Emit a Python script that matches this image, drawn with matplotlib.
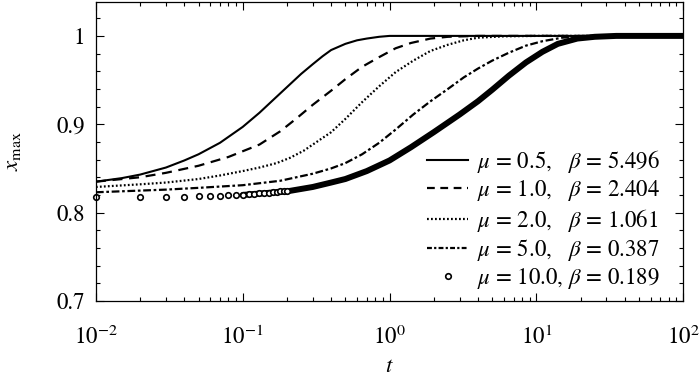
import matplotlib
matplotlib.use('Agg')
import matplotlib.pyplot as plt
from matplotlib.lines import Line2D

plt.rcParams['font.family'] = ['STIXGeneral', 'DejaVu Serif']
plt.rcParams['mathtext.fontset'] = 'stix'
plt.rcParams['font.size'] = 16.5

# values
t_mu05 = [0.01, 0.015, 0.02, 0.03, 0.04, 0.05, 0.07, 0.1, 0.13, 0.16, 0.2, 0.25,
          0.3, 0.35, 0.4, 0.5, 0.6, 0.7, 0.85, 1.0, 1.5, 2.0, 100.0]
x_mu05 = [0.835, 0.839, 0.843, 0.851, 0.859, 0.866, 0.879, 0.897, 0.913, 0.927, 0.942, 0.957,
          0.968, 0.977, 0.984, 0.991, 0.995, 0.997, 0.999, 1.0, 1.0, 1.0, 1.0]

t_mu1 = [0.01, 0.02, 0.03, 0.05, 0.08, 0.13, 0.18, 0.23, 0.3, 0.4, 0.5, 0.65,
         0.85, 1.1, 1.4, 1.9, 2.5, 4.0, 100.0]
x_mu1 = [0.835, 0.840, 0.845, 0.853, 0.863, 0.877, 0.892, 0.906, 0.922, 0.938, 0.951, 0.965,
         0.976, 0.986, 0.992, 0.997, 0.999, 1.0, 1.0]

t_mu2 = [0.01, 0.02, 0.03, 0.05, 0.07, 0.1, 0.13, 0.17, 0.21, 0.26, 0.3, 0.4,
         0.5, 0.65, 0.85, 1.1, 1.45, 1.9, 2.5, 3.2, 4.0, 6.0, 10.0, 100.0]
x_mu2 = [0.829, 0.832, 0.834, 0.838, 0.842, 0.847, 0.851, 0.856, 0.862, 0.870, 0.877, 0.891,
         0.906, 0.925, 0.943, 0.959, 0.972, 0.983, 0.990, 0.995, 0.998, 0.9995, 1.0, 1.0]

t_mu5 = [0.01, 0.03, 0.05, 0.1, 0.18, 0.3, 0.4, 0.5, 0.65, 0.85, 1.1, 1.45,
         1.9, 2.5, 3.2, 4.0, 5.0, 6.5, 8.5, 11.0, 15.0, 20.0, 30.0, 100.0]
x_mu5 = [0.823, 0.826, 0.828, 0.831, 0.836, 0.844, 0.850, 0.856, 0.866, 0.879, 0.894, 0.911,
         0.926, 0.940, 0.953, 0.963, 0.972, 0.981, 0.989, 0.994, 0.998, 0.9995, 1.0, 1.0]

# mu = 10: separate circles at small t, dense band afterwards
t_mu10_pts = [0.01, 0.02, 0.03, 0.04, 0.05, 0.06, 0.07, 0.08, 0.09, 0.10,
              0.11, 0.12, 0.13, 0.14, 0.15, 0.16, 0.17, 0.18, 0.19, 0.20]
x_mu10_pts = [0.818, 0.818, 0.818, 0.818, 0.819, 0.819, 0.819, 0.820, 0.820, 0.820,
              0.821, 0.821, 0.822, 0.822, 0.822, 0.823, 0.823, 0.824, 0.824, 0.824]
t_mu10 = [0.10, 0.2, 0.3, 0.4, 0.5, 0.7, 1.0, 1.4, 2.0, 2.5, 3.0, 4.0, 5.0,
          6.5, 8.5, 11.0, 14.0, 19.0, 25.0, 35.0, 100.0]
x_mu10 = [0.820, 0.824, 0.829, 0.834, 0.838, 0.847, 0.859, 0.874, 0.891, 0.902, 0.911, 0.926, 0.939,
          0.955, 0.970, 0.982, 0.991, 0.997, 0.999, 1.0, 1.0]

labels = [r'$\mu$ = 0.5,   $\beta$ = 5.496',
          r'$\mu$ = 1.0,   $\beta$ = 2.404',
          r'$\mu$ = 2.0,   $\beta$ = 1.061',
          r'$\mu$ = 5.0,   $\beta$ = 0.387',
          r'$\mu$ = 10.0, $\beta$ = 0.189']

fig = plt.figure(figsize=(7, 3.79), dpi=100)
ax = fig.add_axes([0.137, 0.206, 0.839, 0.789])

ax.plot(t_mu05, x_mu05, color='black', lw=1.5)
ax.plot(t_mu1, x_mu1, color='black', lw=1.6, dashes=(4.5, 3))
ax.plot(t_mu2, x_mu2, color='black', lw=1.6, dashes=(0.8, 1.0))
ax.plot(t_mu5, x_mu5, color='black', lw=1.6, dashes=(3.5, 1.2, 1.2, 1.2))
ax.plot(t_mu10, x_mu10, color='black', lw=4.3, solid_capstyle='round')
ax.plot(t_mu10_pts, x_mu10_pts, ls='none', marker='o', ms=4, mfc='white',
        mec='black', mew=1.2, clip_on=False)

ax.set_xscale('log')
ax.set_xlim(1e-2, 1e2)
ax.set_ylim(0.7, 1.0385)
ax.set_xticks([1e-2, 1e-1, 1e0, 1e1, 1e2])
ax.set_xticklabels([r'$10^{-2}$', r'$10^{-1}$', r'$10^{0}$', r'$10^{1}$', r'$10^{2}$'])
ax.set_yticks([0.7, 0.8, 0.9, 1.0])
ax.set_yticklabels(['0.7', '0.8', '0.9', '1'])
ax.set_yticks([0.72, 0.74, 0.76, 0.78, 0.82, 0.84, 0.86, 0.88, 0.92, 0.94,
               0.96, 0.98, 1.02], minor=True)
ax.tick_params(which='both', direction='in', top=True, right=True, width=0.8)
ax.tick_params(which='major', length=6)
ax.tick_params(which='minor', length=3)
ax.tick_params(axis='x', which='major', pad=18)
ax.tick_params(axis='y', which='major', pad=8)
for s in ax.spines.values():
    s.set_linewidth(0.9)

ax.set_xlabel(r'$t$', labelpad=5)
ax.set_ylabel(r'$x_{\mathrm{max}}$', labelpad=24)

handles = [
    Line2D([], [], color='black', lw=1.5),
    Line2D([], [], color='black', lw=1.6, dashes=(3.5, 2.5)),
    Line2D([], [], color='black', lw=1.6, dashes=(0.8, 1.0)),
    Line2D([], [], color='black', lw=1.6, dashes=(2.2, 1.0, 1.0, 1.0)),
    Line2D([], [], ls='none', marker='o', ms=4, mfc='white', mec='black', mew=1.2),
]
ax.legend(handles, labels, loc='upper left', bbox_to_anchor=(0.56, 0.52),
          frameon=False, handlelength=1.8, handletextpad=0.4, labelspacing=0.15,
          borderaxespad=0, borderpad=0.1)

fig.savefig('out.png', dpi=100)
